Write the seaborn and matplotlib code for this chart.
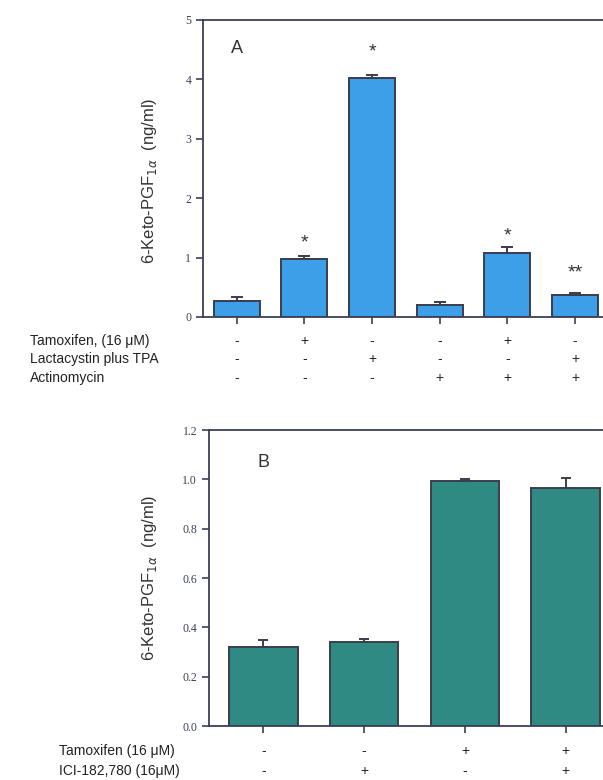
import matplotlib
matplotlib.use("Agg")
import matplotlib.pyplot as plt
import matplotlib.transforms as mtransforms
import seaborn as sns
import pandas as pd

# Panel A data
a_groups = ["c1", "c2", "c3", "c4", "c5", "c6"]
a_means = [0.27, 0.97, 4.02, 0.20, 1.08, 0.37]
a_err = [0.07, 0.05, 0.06, 0.05, 0.09, 0.03]
a_stars = ["", "*", "*", "", "*", "**"]
a_star_y = [0, 1.24, 4.46, 0, 1.37, 0.74]
a_rows = ["Tamoxifen, (16 \u03bcM)", "Lactacystin plus TPA", "Actinomycin"]
a_signs = [
    ["-", "+", "-", "-", "+", "-"],
    ["-", "-", "+", "-", "-", "+"],
    ["-", "-", "-", "+", "+", "+"],
]

# Panel B data
b_groups = ["d1", "d2", "d3", "d4"]
b_means = [0.32, 0.342, 0.995, 0.964]
b_err = [0.028, 0.012, 0.006, 0.04]
b_rows = ["Tamoxifen (16 \u03bcM)", "ICI-182,780 (16\u03bcM)"]
b_signs = [
    ["-", "-", "+", "+"],
    ["-", "+", "-", "+"],
]

sns.set_style("ticks")
plt.rcParams['font.family'] = ['Liberation Sans', 'DejaVu Sans']
axis_col = "#3a4058"
edge_col = "#3a3d4c"

fig = plt.figure(figsize=(6.03, 7.8), dpi=100)
ax_a = fig.add_axes([0.3367, 0.5936, 0.673, 0.3808])
ax_b = fig.add_axes([0.3466, 0.0692, 0.675, 0.3795])


def draw_panel(ax, groups, means, err, color, ylim, yticks, ylabels, xlim, cap, letter, letter_y):
    df = pd.DataFrame({"group": groups, "value": means})
    sns.barplot(data=df, x="group", y="value", color=color, edgecolor=edge_col,
                linewidth=1.4, width=0.68, errorbar=None, saturation=1, ax=ax)
    pos = list(range(len(groups)))
    ax.errorbar(pos, means, yerr=[[0] * len(err), err], fmt="none",
                ecolor=edge_col, elinewidth=1.4, capsize=cap, capthick=1.4)
    ax.set_xlim(*xlim)
    ax.set_ylim(*ylim)
    ax.set_yticks(yticks)
    ax.set_yticklabels(ylabels, family="Liberation Serif", fontsize=8.5, color=axis_col)
    ax.set_xticks(pos)
    ax.set_xticklabels([])
    ax.set_xlabel("")
    ax.set_ylabel("6-Keto-PGF$_{1\\alpha}$  (ng/ml)", fontsize=12, color="#333333")
    ax.tick_params(axis="both", direction="out", length=5, width=1.2, color=axis_col)
    for side in ["left", "top", "bottom", "right"]:
        ax.spines[side].set_visible(True)
        ax.spines[side].set_color(axis_col)
        ax.spines[side].set_linewidth(1.3)
    ax.text(0.0, letter_y, letter, fontsize=13, color="#333333", ha="center", va="center")
    return pos


pos_a = draw_panel(ax_a, a_groups, a_means, a_err, "#3d9fe8", (0, 5), [0, 1, 2, 3, 4, 5],
                   ["0", "1", "2", "3", "4", "5"], (-0.5, 5.5), 4, "A", 4.52)
pos_b = draw_panel(ax_b, b_groups, b_means, b_err, "#2f8a84", (0, 1.2),
                   [0, 0.2, 0.4, 0.6, 0.8, 1.0, 1.2],
                   ["0.0", "0.2", "0.4", "0.6", "0.8", "1.0", "1.2"], (-0.54, 3.5), 3.5, "B", 1.07)

ax_a.yaxis.set_label_coords(-0.108, 0.46)
ax_b.yaxis.set_label_coords(-0.124, 0.5)

for p, s, y in zip(pos_a, a_stars, a_star_y):
    if s:
        ax_a.text(p, y, s, ha="center", va="center", fontsize=14, color="#333333")

# treatment tables under the panels
tr_a = mtransforms.blended_transform_factory(ax_a.transData, fig.transFigure)
row_y_a = [1 - 341 / 780, 1 - 359 / 780, 1 - 378 / 780]
for name, signs, y in zip(a_rows, a_signs, row_y_a):
    fig.text(30 / 603, y, name, fontsize=10, color="#222222", va="center", ha="left")
    for p, s in zip(pos_a, signs):
        ax_a.text(p, y, s, transform=tr_a, fontsize=10, ha="center", va="center",
                  color="#222222", clip_on=False)

tr_b = mtransforms.blended_transform_factory(ax_b.transData, fig.transFigure)
row_y_b = [1 - 751 / 780, 1 - 771 / 780]
for name, signs, y in zip(b_rows, b_signs, row_y_b):
    fig.text(59 / 603, y, name, fontsize=10, color="#222222", va="center", ha="left")
    for p, s in zip(pos_b, signs):
        ax_b.text(p, y, s, transform=tr_b, fontsize=10, ha="center", va="center",
                  color="#222222", clip_on=False)

fig.savefig("out.png", dpi=100)
plt.close(fig)
